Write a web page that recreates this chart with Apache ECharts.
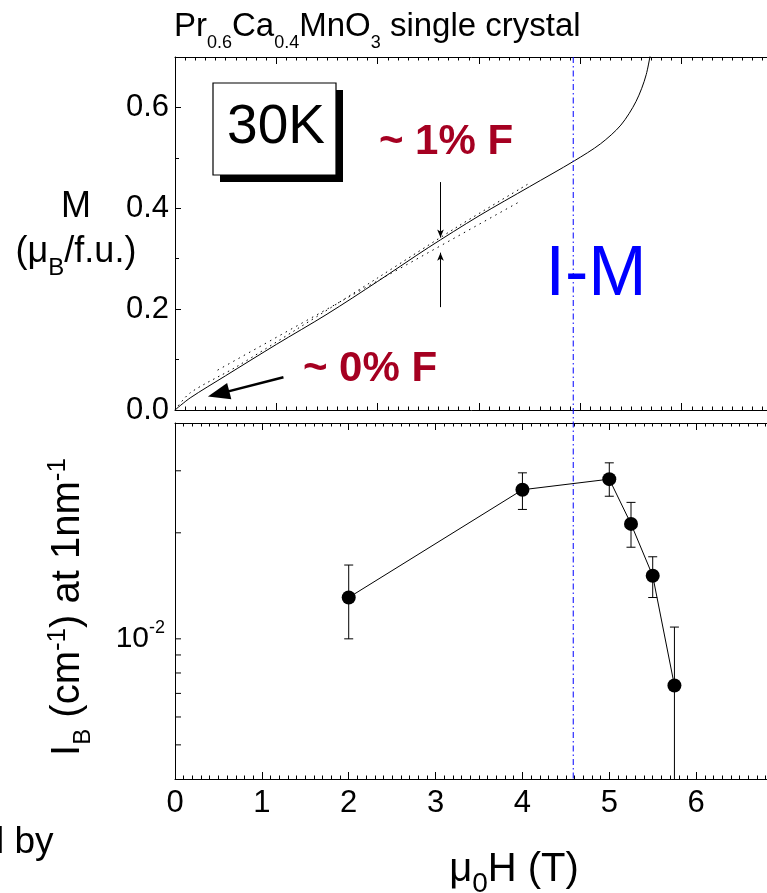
<!DOCTYPE html>
<html>
<head>
<meta charset="utf-8">
<script src="https://cdn.jsdelivr.net/npm/echarts@6/dist/echarts.min.js"></script>
<style>
html,body{margin:0;padding:0;background:#fff;}
#main{width:767px;height:893px;}
</style>
</head>
<body>
<div id="main"></div>
<script>
// top panel: M(H) at 30K  (field in T, M in muB/f.u.)
var mField = [0, 0.15, 0.5, 1.0, 1.5, 2.0, 2.5, 3.0, 3.5, 3.94, 4.2, 4.4, 4.55, 4.65, 4.72];
var mValue = [0, 0.024, 0.068, 0.130, 0.190, 0.255, 0.322, 0.385, 0.443, 0.494, 0.528, 0.565, 0.612, 0.665, 0.74];
// dotted curve lying just on top of the solid one
var mRefField = [0, 0.15, 0.6, 1.2, 2.0, 2.8, 3.5];
var mRefValue = [0, 0.034, 0.085, 0.160, 0.262, 0.365, 0.45];
// dotted straight line
var fitField = [0.42, 3.40];
var fitValue = [0.079, 0.413];

// bottom panel: I_B at 1nm-1 vs field
var saxsField = [2, 4, 5, 5.25, 5.5, 5.75];
var saxsI = [0.0131, 0.0265, 0.0284, 0.0212, 0.0151, 0.00737];
var saxsErrLow = [0.0100, 0.0233, 0.0254, 0.0182, 0.0131, 0.0030];
var saxsErrHigh = [0.0162, 0.0296, 0.0316, 0.0244, 0.0171, 0.0108];
var logTicks = [0.005, 0.006, 0.007, 0.008, 0.009, 0.01, 0.02, 0.03];

var imFieldTop = 3.93;     // I-M line, top panel scale
var imFieldBottom = 4.585; // same line, bottom panel scale

var ff = 'Liberation Sans, Arial, sans-serif';
var red = '#a50021';
var blue = '#0000ff';
var dashDot = [6, 3, 1.5, 3];

function pairs(xs, ys) {
    var out = [];
    for (var i = 0; i < xs.length; i++) out.push([xs[i], ys[i]]);
    return out;
}

function xAx(grid, max, pos, labels) {
    return {
        gridIndex: grid, type: 'value', min: 0, max: max, interval: 1, position: pos,
        axisLine: {onZero: false, lineStyle: {color: '#000', width: 1}},
        axisTick: {inside: true, length: 7, lineStyle: {color: '#000'}},
        minorTick: {show: true, splitNumber: 10, length: 3.5, lineStyle: {color: '#000'}},
        splitLine: {show: false},
        axisLabel: {show: labels, fontSize: 31, fontFamily: ff, color: '#000', margin: 9}
    };
}

var chart = echarts.init(document.getElementById('main'));

var graphics = [
    {type: 'text', x: 174, y: 27, style: {
        text: 'Pr{s|0.6}Ca{s|0.4}MnO{s|3} single crystal', fontSize: 33, fontFamily: ff, fill: '#000',
        align: 'left', verticalAlign: 'middle', textAlign: 'left', textVerticalAlign: 'middle',
        rich: {s: {fontSize: 18, fontFamily: ff, padding: [33, 0, 0, 0]}}}},
    // 30K box
    {type: 'rect', shape: {x: 220, y: 90, width: 123, height: 92}, style: {fill: '#000'}},
    {type: 'rect', shape: {x: 213, y: 83, width: 123, height: 92}, style: {fill: '#fff', stroke: '#000', lineWidth: 1.2}},
    {type: 'text', x: 276, y: 128, style: {text: '30K', fontSize: 55, fontFamily: ff, fill: '#000',
        align: 'center', verticalAlign: 'middle', textAlign: 'center', textVerticalAlign: 'middle'}},
    {type: 'text', x: 446, y: 142, style: {text: '~ 1% F', fontSize: 42, fontWeight: 'bold', fontFamily: ff, fill: red,
        align: 'center', verticalAlign: 'middle', textAlign: 'center', textVerticalAlign: 'middle'}},
    {type: 'text', x: 370, y: 369, style: {text: '~ 0% F', fontSize: 42, fontWeight: 'bold', fontFamily: ff, fill: red,
        align: 'center', verticalAlign: 'middle', textAlign: 'center', textVerticalAlign: 'middle'}},
    {type: 'text', x: 596, y: 276, style: {text: 'I-M', fontSize: 70, fontFamily: ff, fill: blue,
        align: 'center', verticalAlign: 'middle', textAlign: 'center', textVerticalAlign: 'middle'}},
    // y name, top panel
    {type: 'text', x: 76, y: 207, style: {text: 'M', fontSize: 36, fontFamily: ff, fill: '#000',
        align: 'center', verticalAlign: 'middle', textAlign: 'center', textVerticalAlign: 'middle'}},
    {type: 'text', x: 76, y: 252, style: {text: '(μ{s|B}/f.u.)', fontSize: 36, fontFamily: ff, fill: '#000',
        align: 'center', verticalAlign: 'middle', textAlign: 'center', textVerticalAlign: 'middle',
        rich: {s: {fontSize: 24, fontFamily: ff, padding: [32, 0, 0, 0]}}}},
    // y name, bottom panel
    {type: 'text', x: 68, y: 607, rotation: Math.PI / 2, style: {
        text: 'I{s|B} (cm{p|-1}) at 1nm{p|-1}', fontSize: 40, fontFamily: ff, fill: '#000',
        align: 'center', verticalAlign: 'middle', textAlign: 'center', textVerticalAlign: 'middle',
        rich: {s: {fontSize: 24, fontFamily: ff, padding: [30, 0, 0, 0]},
               p: {fontSize: 26, fontFamily: ff, padding: [0, 0, 20, 0]}}}},
    // x name
    {type: 'text', x: 514, y: 870, style: {text: 'μ{s|0}H (T)', fontSize: 40, fontFamily: ff, fill: '#000',
        align: 'center', verticalAlign: 'middle', textAlign: 'center', textVerticalAlign: 'middle',
        rich: {s: {fontSize: 28, fontFamily: ff, padding: [28, 0, 0, 0]}}}},
    {type: 'text', x: -4, y: 843, style: {text: 'l by', fontSize: 37, fontFamily: ff, fill: '#000',
        align: 'left', verticalAlign: 'middle', textAlign: 'left', textVerticalAlign: 'middle'}}
];

var option = {
    animation: false,
    backgroundColor: '#fff',
    grid: [
        {left: 175, top: 57, width: 608, height: 353, outerBoundsMode: 'none', containLabel: false},
        {left: 175, top: 423, width: 608, height: 356, outerBoundsMode: 'none', containLabel: false}
    ],
    xAxis: [
        xAx(0, 6, 'bottom', false),
        xAx(0, 6, 'top', false),
        xAx(1, 7, 'bottom', true),
        xAx(1, 7, 'top', false)
    ],
    yAxis: [
        {
            gridIndex: 0, type: 'value', min: 0, max: 0.7, interval: 0.2,
            axisLine: {onZero: false, lineStyle: {color: '#000', width: 1}},
            axisTick: {inside: true, length: 6, lineStyle: {color: '#000'}},
            minorTick: {show: true, splitNumber: 2, length: 4, lineStyle: {color: '#000'}},
            splitLine: {show: false},
            axisLabel: {fontSize: 31, fontFamily: ff, color: '#000', margin: 6,
                formatter: function (v) {
                    return Math.abs(v / 0.2 - Math.round(v / 0.2)) < 1e-6 ? v.toFixed(1) : '';
                }}
        },
        {
            gridIndex: 1, type: 'log', logBase: 10, min: 0.004, max: 0.041,
            axisLine: {onZero: false, lineStyle: {color: '#000', width: 1}},
            axisTick: {show: false},
            minorTick: {show: false},
            splitLine: {show: false},
            axisLabel: {fontSize: 30, fontFamily: ff, color: '#000', margin: 10,
                formatter: function (v) {
                    return Math.abs(Math.log(v) / Math.LN10 + 2) < 0.01 ? '10{p|-2}' : '';
                },
                rich: {p: {fontSize: 18, fontFamily: ff, color: '#000', padding: [0, 0, 22, 0]}}}
        }
    ],
    series: [
        {
            type: 'line', xAxisIndex: 0, yAxisIndex: 0, data: pairs(mField, mValue),
            smooth: 0.3, showSymbol: false, symbol: 'none',
            lineStyle: {color: '#000', width: 1}, z: 3
        },
        {
            type: 'line', xAxisIndex: 0, yAxisIndex: 0, data: pairs(mRefField, mRefValue),
            smooth: 0.3, showSymbol: false, symbol: 'none',
            lineStyle: {color: '#000', width: 1, type: [1.5, 4]}
        },
        {
            type: 'line', xAxisIndex: 0, yAxisIndex: 0, data: pairs(fitField, fitValue),
            showSymbol: false, symbol: 'none',
            lineStyle: {color: '#000', width: 1, type: [1.5, 4.5]},
            markLine: {
                silent: true, label: {show: false}, symbol: ['none', 'arrow'], symbolSize: [5, 8],
                lineStyle: {color: '#000', width: 1, type: 'solid'},
                data: [
                    [{coord: [2.62, 0.452]}, {coord: [2.62, 0.342]}],
                    [{coord: [2.62, 0.204]}, {coord: [2.62, 0.312]}],
                    [{coord: [1.07, 0.065], lineStyle: {width: 2.5}},
                     {coord: [0.43, 0.032], symbol: 'triangle', symbolSize: [17, 22]}]
                ]
            }
        },
        {
            type: 'line', xAxisIndex: 2, yAxisIndex: 1, data: pairs(saxsField, saxsI),
            symbol: 'circle', symbolSize: 14, itemStyle: {color: '#000'},
            lineStyle: {color: '#000', width: 1}, z: 4
        },
        {
            type: 'custom', xAxisIndex: 2, yAxisIndex: 1, clip: true, silent: true, z: 3,
            data: saxsField.map(function (h, i) { return [h, saxsErrLow[i], saxsErrHigh[i]]; }),
            renderItem: function (params, api) {
                var lo = api.coord([api.value(0), api.value(1)]);
                var hi = api.coord([api.value(0), api.value(2)]);
                var w = 4.5, st = {stroke: '#000', lineWidth: 1};
                return {type: 'group', children: [
                    {type: 'line', shape: {x1: lo[0], y1: lo[1], x2: hi[0], y2: hi[1]}, style: st},
                    {type: 'line', shape: {x1: lo[0] - w, y1: lo[1], x2: lo[0] + w, y2: lo[1]}, style: st},
                    {type: 'line', shape: {x1: hi[0] - w, y1: hi[1], x2: hi[0] + w, y2: hi[1]}, style: st}
                ]};
            }
        },
        {
            // log-axis tick marks (decade minors)
            type: 'custom', xAxisIndex: 2, yAxisIndex: 1, clip: false, silent: true,
            data: logTicks.map(function (v) { return [0, v]; }),
            renderItem: function (params, api) {
                var p = api.coord([0, api.value(1)]);
                return {type: 'line', shape: {x1: p[0], y1: p[1], x2: p[0] + 6, y2: p[1]},
                    style: {stroke: '#000', lineWidth: 1}};
            }
        }
    ],
    graphic: graphics
};

chart.setOption(option);

// I-M line, one stroke through both panels, placed with the axes of each panel
var pTop = chart.convertToPixel({gridIndex: 0}, [imFieldTop, 0.7]);
var pBot = chart.convertToPixel({gridIndex: 1}, [imFieldBottom, 0.004]);
graphics.push({type: 'line', z: 10,
    shape: {x1: pTop[0], y1: pTop[1], x2: pBot[0], y2: pBot[1]},
    style: {stroke: blue, lineWidth: 1, lineDash: dashDot}});
chart.setOption({graphic: graphics});
</script>
</body>
</html>
